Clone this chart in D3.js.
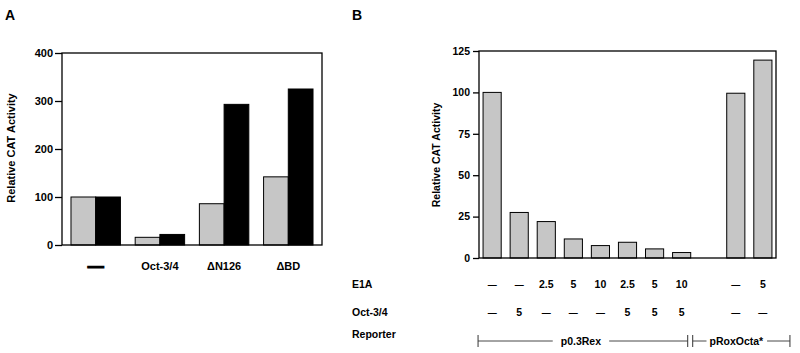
<!DOCTYPE html>
<html>
<head>
<meta charset="utf-8">
<script src="https://cdn.jsdelivr.net/npm/d3@7"></script>
<style>
  body { margin: 0; background: #fff; }
  svg text { font-family: "Liberation Sans", Arial, sans-serif; font-weight: bold; fill: #000; }
</style>
</head>
<body>
<svg id="chart" width="800" height="353"></svg>
<script>
// panel A
const catsA = ["—", "Oct-3/4", "ΔN126", "ΔBD"];
const grayA = [100, 16, 86, 142];
const blackA = [100, 22, 293, 325];
const ticksA = [0, 100, 200, 300, 400];

// panel B
const slotsB = ["b1", "b2", "b3", "b4", "b5", "b6", "b7", "b8", "gap", "b9", "b10"];
const valuesB = [100, 27.5, 22, 11.5, 7.5, 9.5, 5.5, 3.3, null, 99.5, 119.5];
const e1aB = ["–", "–", "2.5", "5", "10", "2.5", "5", "10", "", "–", "5"];
const octB = ["–", "5", "–", "–", "–", "5", "5", "5", "", "–", "–"];
const ticksB = [0, 25, 50, 75, 100, 125];
const reporters = [
  {name: "p0.3Rex", from: "b1", to: "b8"},
  {name: "pRoxOcta*", from: "b9", to: "b10"}
];

const gray = "#c6c6c6";
let svg = d3.select("#chart");

// ---------- A ----------
let gA = svg.append("g");
let xA = d3.scaleBand().domain(catsA).range([62, 322]).paddingInner(0.23).paddingOuter(0.14);
let xInner = d3.scaleBand().domain(["g", "b"]).range([0, xA.bandwidth()]);
let yA = d3.scaleLinear().domain([0, 400]).range([245, 53]);

gA.append("text").attr("x", 5).attr("y", 20).style("font-size", "14px").text("A");

let groupsA = gA.selectAll("g.grp").data(catsA).enter().append("g")
    .attr("transform", d => "translate(" + xA(d) + ",0)");
groupsA.append("rect")
    .attr("x", xInner("g")).attr("width", xInner.bandwidth())
    .attr("y", (d, i) => yA(grayA[i])).attr("height", (d, i) => yA(0) - yA(grayA[i]))
    .attr("fill", gray).attr("stroke", "#000").attr("stroke-width", 1);
groupsA.append("rect")
    .attr("x", xInner("b")).attr("width", xInner.bandwidth())
    .attr("y", (d, i) => yA(blackA[i])).attr("height", (d, i) => yA(0) - yA(blackA[i]))
    .attr("fill", "#000").attr("stroke", "#000").attr("stroke-width", 1);

gA.append("rect").attr("x", 62).attr("y", yA(400)).attr("width", 260).attr("height", yA(0) - yA(400))
    .attr("fill", "none").attr("stroke", "#000").attr("stroke-width", 1.3);

let axA = gA.append("g").attr("transform", "translate(62,0)")
    .call(d3.axisLeft(yA).tickValues(ticksA).tickSize(7).tickPadding(2));
axA.select(".domain").remove();
axA.selectAll("line").attr("stroke", "#000").attr("stroke-width", 1.3);
axA.selectAll("text").style("font-size", "11px").attr("fill", "#000");

gA.selectAll("text.cat").data(catsA).enter().append("text")
    .attr("class", "cat")
    .attr("x", d => xA(d) + xA.bandwidth() / 2).attr("y", d => d == "—" ? 272 : 270)
    .attr("text-anchor", "middle")
    .style("font-size", d => d == "—" ? "16px" : "11px")
    .style("stroke", d => d == "—" ? "#000" : "none")
    .style("stroke-width", 1.2)
    .text(d => d);

gA.append("text")
    .attr("transform", "translate(15,148) rotate(-90)")
    .attr("text-anchor", "middle").style("font-size", "11px")
    .text("Relative  CAT  Activity");

// ---------- B ----------
let gB = svg.append("g");
let xB = d3.scaleBand().domain(slotsB).range([479, 776]).paddingInner(0.33).paddingOuter(0.15);
let yB = d3.scaleLinear().domain([0, 125]).range([258, 51]);

gB.append("text").attr("x", 352).attr("y", 20).style("font-size", "14px").text("B");

gB.selectAll("rect.bar").data(slotsB.filter((s, i) => valuesB[i] != null)).enter().append("rect")
    .attr("class", "bar")
    .attr("x", d => xB(d)).attr("width", xB.bandwidth())
    .attr("y", d => yB(valuesB[slotsB.indexOf(d)]))
    .attr("height", d => yB(0) - yB(valuesB[slotsB.indexOf(d)]))
    .attr("fill", gray).attr("stroke", "#000").attr("stroke-width", 1);

gB.append("rect").attr("x", 479).attr("y", yB(125)).attr("width", 297).attr("height", yB(0) - yB(125))
    .attr("fill", "none").attr("stroke", "#000").attr("stroke-width", 1.3);

let axB = gB.append("g").attr("transform", "translate(479,0)")
    .call(d3.axisLeft(yB).tickValues(ticksB).tickSize(6).tickPadding(3));
axB.select(".domain").remove();
axB.selectAll("line").attr("stroke", "#000").attr("stroke-width", 1.3);
axB.selectAll("text").style("font-size", "10.5px").attr("fill", "#000");

gB.append("text")
    .attr("transform", "translate(440,155) rotate(-90)")
    .attr("text-anchor", "middle").style("font-size", "10.5px")
    .text("Relative CAT Activity");

// row labels
let rows = [["E1A", 288, e1aB], ["Oct-3/4", 316, octB]];
rows.forEach(r => {
    gB.append("text").attr("x", 352).attr("y", r[1]).style("font-size", "10.5px").text(r[0]);
    gB.selectAll(null).data(slotsB).enter().append("text")
        .attr("x", d => xB(d) + xB.bandwidth() / 2).attr("y", r[1])
        .attr("text-anchor", "middle").style("font-size", "10.5px")
        .text((d, i) => r[2][i] == "–" ? "—" : r[2][i])
        .style("font-size", (d, i) => r[2][i] == "–" ? "9px" : "10.5px");
});
gB.append("text").attr("x", 352).attr("y", 338).style("font-size", "10.5px").text("Reporter");

// reporter brackets
let by = 341;
let spans = [
    [xB("b1") - 5, xB("b8") + xB.bandwidth() - 3],
    [xB("b8") + xB.bandwidth() + 2, xB("b10") + xB.bandwidth() + 18]
];
reporters.forEach((r, i) => {
    let x0 = spans[i][0], x1 = spans[i][1];
    let cx = i == 0 ? (x0 + x1) / 2 - 2 : (x0 + x1) / 2 - 5;
    let t = gB.append("text").attr("x", cx).attr("y", by + 4)
        .attr("text-anchor", "middle").style("font-size", "10.5px").text(r.name);
    let bb = t.node().getBBox();
    let pad = i == 0 ? 8 : 3;
    gB.append("line").attr("x1", x0).attr("x2", bb.x - pad).attr("y1", by).attr("y2", by)
        .attr("stroke", "#333").attr("stroke-width", 0.9);
    gB.append("line").attr("x1", bb.x + bb.width + pad).attr("x2", x1).attr("y1", by).attr("y2", by)
        .attr("stroke", "#333").attr("stroke-width", 0.9);
    [x0, x1].forEach(x => gB.append("line").attr("x1", x).attr("x2", x)
        .attr("y1", by - 6).attr("y2", by + 6).attr("stroke", "#333").attr("stroke-width", 1));
});
</script>
</body>
</html>
